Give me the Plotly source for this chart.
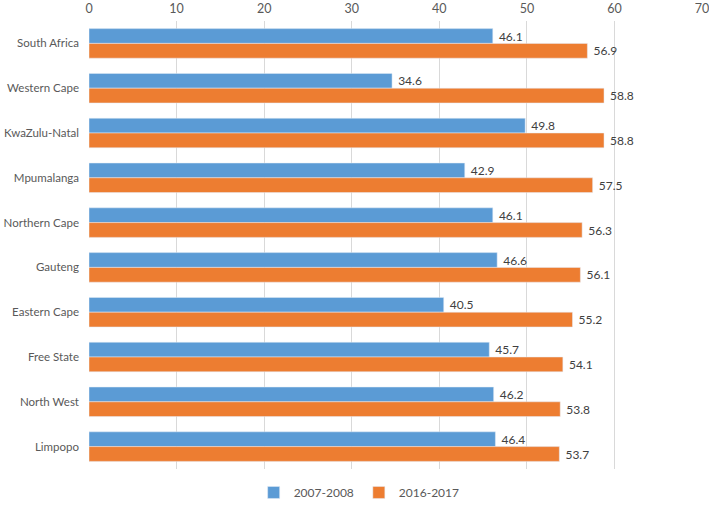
import plotly.graph_objects as go

categories = ["South Africa", "Western Cape", "KwaZulu-Natal", "Mpumalanga", "Northern Cape",
              "Gauteng", "Eastern Cape", "Free State", "North West", "Limpopo"]
v2007 = [46.1, 34.6, 49.8, 42.9, 46.1, 46.6, 40.5, 45.7, 46.2, 46.4]
v2016 = [56.9, 58.8, 58.8, 57.5, 56.3, 56.1, 55.2, 54.1, 53.8, 53.7]
ticks = [0, 10, 20, 30, 40, 50, 60, 70]

font = "Lato, Noto Sans, sans-serif"

fig = go.Figure()
fig.add_trace(go.Bar(y=categories, x=v2007, orientation="h", name="2007-2008",
                     marker_color="#5B9BD5", text=[f"\u00a0{v:.1f}" for v in v2007],
                     textposition="outside", cliponaxis=False,
                     textfont=dict(color="#404040", size=13, family=font)))
fig.add_trace(go.Bar(y=categories, x=v2016, orientation="h", name="2016-2017",
                     marker_color="#ED7D31", text=[f"\u00a0{v:.1f}" for v in v2016],
                     textposition="outside", cliponaxis=False,
                     textfont=dict(color="#404040", size=13, family=font)))

fig.update_layout(
    width=709, height=513,
    margin=dict(l=89, r=6, t=21, b=32),
    paper_bgcolor="white", plot_bgcolor="white",
    barmode="group", bargap=0.34, bargroupgap=0,
    font=dict(family=font, size=12, color="#595959"),
    legend=dict(orientation="h", x=0.44, xanchor="center", y=-0.02, yanchor="top",
                font=dict(size=12, color="#595959"), traceorder="normal"),
    xaxis=dict(side="top", range=[0, 70.1], tickvals=ticks, showgrid=True,
               gridcolor="#D9D9D9", gridwidth=1, zeroline=False, showline=False,
               tickfont=dict(size=12.5, color="#595959"), ticks="", ticklabelstandoff=5,
               ticklabeloverflow="allow", automargin=False),
    yaxis=dict(categoryorder="array", categoryarray=categories, autorange="reversed",
               showgrid=False, showline=False, ticks="",
               tickfont=dict(size=11.5, color="#595959"), ticklabelstandoff=9,
               automargin=False),
)
fig.write_html("out.html", config={"displayModeBar": False},
               post_script="document.body.style.margin='0';")
